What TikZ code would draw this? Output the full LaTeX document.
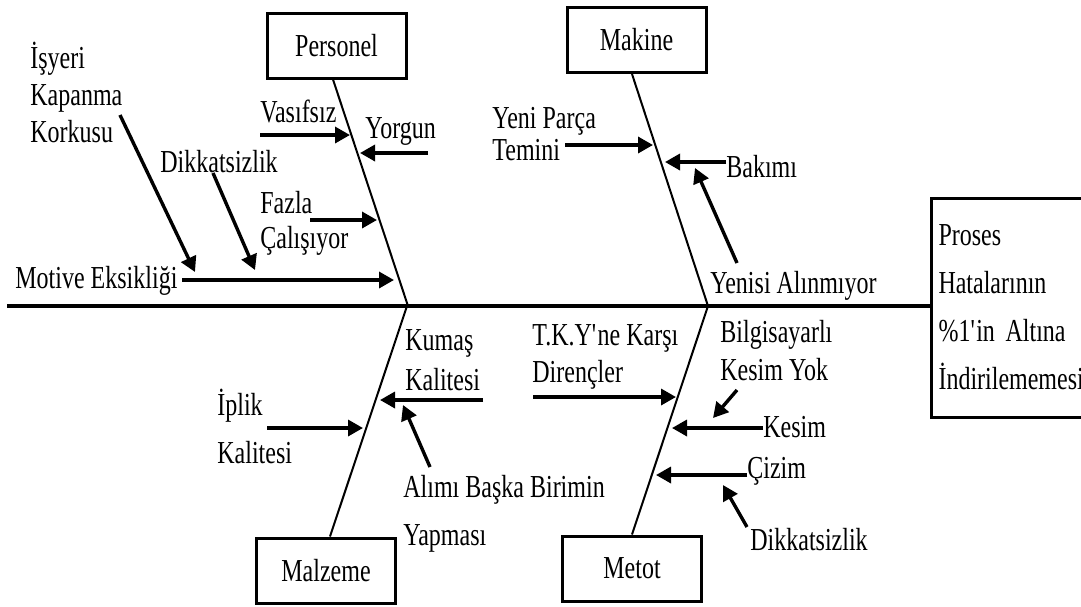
\documentclass[tikz,border=0pt]{standalone}
\usepackage{fontspec}
\setmainfont{Liberation Serif}[FakeStretch=0.75]
\usetikzlibrary{arrows.meta}
\begin{document}
\begin{tikzpicture}[x=0.5pt,y=-0.5pt,
  lbl/.style={anchor=base west, inner sep=0pt, align=left, font=\fontsize{16}{#1}\selectfont},
  lbl/.default=18.5pt,
  cat/.style={draw, line width=1.5pt, minimum width=69.5pt, minimum height=32.5pt, inner sep=0pt, font=\fontsize{16}{18}\selectfont},
  bone/.style={line width=1pt},
  spine/.style={line width=1.6pt},
  cause/.style={line width=1.7pt, -{Triangle[length=7.5pt,width=8pt]}},
]
\useasboundingbox (0,0) rectangle (1081,606);
\fill[white] (0,0) rectangle (1081,606);
\clip (0,0) rectangle (1081,606);

% effect box
\node[draw, line width=1.5pt, anchor=west, minimum height=109.5pt, text width=80pt, inner xsep=3.5pt, align=left, font=\fontsize{16}{24}\selectfont] (effect) at (930,307.5)
  {Proses\\Hatalarının\\\%1\textquotesingle in Altına\\İndirilememesi};

% spine
\coordinate (tail) at (7,306);
\draw[spine] (tail) -- (tail -| effect.west);

% categories
\node[cat] (personel) at (336.5,45.5) {Personel};
\node[cat] (makine) at (636.5,40) {Makine};
\node[cat] (malzeme) at (326,570.5) {Malzeme};
\node[cat] (metot) at (632,568.5) {Metot};

\coordinate (pj) at (408,306);
\coordinate (kj) at (708,306);
\coordinate (lj) at (407,306);
\coordinate (tj) at (708,306);
\draw[bone] ([xshift=-1.75pt]personel.south) -- (pj);
\draw[bone] ([xshift=-2.25pt]makine.south) -- (kj);
\draw[bone] ([xshift=2pt]malzeme.north) -- (lj);
\draw[bone] (metot.north) -- (tj);

% Personel causes (y = baseline of last line)
\node[lbl=18.5pt] (isyeri) at (30,142) {İşyeri\\Kapanma\\Korkusu};
\node[lbl] (vasifsiz) at (260,122) {Vasıfsız};
\node[lbl] (yorgun) at (365,138) {Yorgun};
\node[lbl] (dikkat1) at (160,172) {Dikkatsizlik};
\node[lbl=17.5pt] (fazla) at (260,248) {Fazla\\Çalışıyor};
\node[lbl] (motive) at (15,288) {Motive Eksikliği};

\coordinate (a1s) at (260,135); \coordinate (a1e) at (350,135);
\coordinate (a2s) at (428,153); \coordinate (a2e) at (360,153);
\coordinate (a3s) at (120,115); \coordinate (a3e) at (195,272);
\coordinate (a4s) at (213,173); \coordinate (a4e) at (255,270);
\coordinate (a5s) at (310,220); \coordinate (a5e) at (377,220);
\coordinate (a6s) at (182,280); \coordinate (a6e) at (394,280);
\draw[cause] (a1s) -- (a1e);
\draw[cause] (a2s) -- (a2e);
\draw[cause] (a3s) -- (a3e);
\draw[cause] (a4s) -- (a4e);
\draw[cause] (a5s) -- (a5e);
\draw[cause] (a6s) -- (a6e);

% Makine causes
\node[lbl=16pt] (yeniparca) at (492,160) {Yeni Parça\\Temini};
\node[lbl] (bakimi) at (726,177) {Bakımı};
\node[lbl] (yenisi) at (710,293) {Yenisi Alınmıyor};
\coordinate (b1s) at (565,145); \coordinate (b1e) at (653,145);
\coordinate (b2s) at (726,162); \coordinate (b2e) at (665,162);
\coordinate (b3s) at (737,263); \coordinate (b3e) at (695,168);
\draw[cause] (b1s) -- (b1e);
\draw[cause] (b2s) -- (b2e);
\draw[cause] (b3s) -- (b3e);

% Malzeme causes
\node[lbl=20pt] (kumas) at (405,390) {Kumaş\\Kalitesi};
\node[lbl=24pt] (iplik) at (217,463) {İplik\\Kalitesi};
\node[lbl=24pt] (alimi) at (403,545) {Alımı Başka Birimin\\Yapması};
\coordinate (c1s) at (483,400); \coordinate (c1e) at (380,400);
\coordinate (c2s) at (267,428); \coordinate (c2e) at (363,428);
\coordinate (c3s) at (430,467); \coordinate (c3e) at (403,405);
\draw[cause] (c1s) -- (c1e);
\draw[cause] (c2s) -- (c2e);
\draw[cause] (c3s) -- (c3e);

% Metot causes
\node[lbl=18.5pt] (tky) at (532,382) {T.K.Y\textquotesingle ne Karşı\\Dirençler};
\node[lbl=19pt] (bilgi) at (720,380) {Bilgisayarlı\\Kesim Yok};
\node[lbl] (kesim) at (763,437) {Kesim};
\node[lbl] (cizim) at (747,478) {Çizim};
\node[lbl] (dikkat2) at (750,550) {Dikkatsizlik};
\coordinate (d1s) at (533,397); \coordinate (d1e) at (676,397);
\coordinate (d2s) at (737,390); \coordinate (d2e) at (713,418);
\coordinate (d3s) at (763,428); \coordinate (d3e) at (672,428);
\coordinate (d4s) at (747,475); \coordinate (d4e) at (656,475);
\coordinate (d5s) at (747,527); \coordinate (d5e) at (723,485);
\draw[cause] (d1s) -- (d1e);
\draw[cause] (d2s) -- (d2e);
\draw[cause] (d3s) -- (d3e);
\draw[cause] (d4s) -- (d4e);
\draw[cause] (d5s) -- (d5e);
\end{tikzpicture}
\end{document}
